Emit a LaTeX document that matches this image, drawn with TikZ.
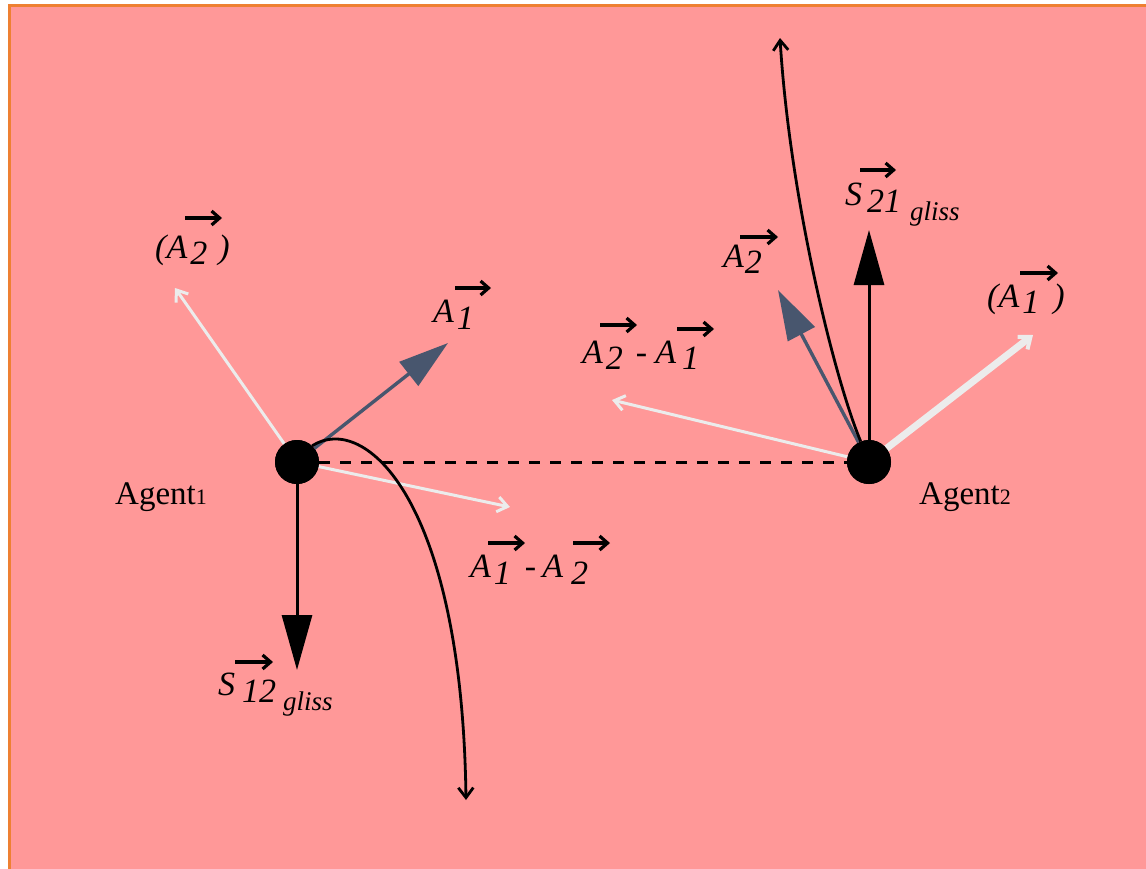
\documentclass[tikz,border=0pt]{standalone}
\usepackage{fontspec}
\setmainfont{Liberation Serif}
\usetikzlibrary{arrows.meta,calc}
\definecolor{bgpink}{RGB}{255,152,152}
\definecolor{frameorange}{RGB}{238,128,50}
\definecolor{slate}{RGB}{72,86,110}
\definecolor{ltgray}{RGB}{236,236,236}
\newcommand\dsub[2]{\raisebox{#1}{#2}}
\newcommand\glissfont{\fontsize{27}{29}\selectfont}
\begin{document}
\begin{tikzpicture}[x=1pt,y=-1pt,
  agent/.style={circle,fill=black,minimum size=44pt,inner sep=0pt},
  lbl/.style={anchor=base west,inner sep=0pt,font=\fontsize{34}{40}\selectfont\itshape},
  aglbl/.style={anchor=base west,inner sep=0pt,font=\fontsize{33}{38}\selectfont},
  vecbar/.style={line width=3.2pt,-{Straight Barb[length=8pt,width=14pt,line width=3.2pt]}},
  bigblack/.style={line width=3pt,-{Triangle[length=55pt,width=30pt]}},
  slatearr/.style={slate,line width=3.4pt,-{Triangle[length=50pt,width=30pt]}},
  whitearr/.style={ltgray,line width=3pt,-{Straight Barb[length=10pt,width=15pt,line width=3pt]}},
  thickwhite/.style={ltgray,line width=7pt,-{Straight Barb[length=10pt,width=16pt,line width=4pt]}},
  curvearr/.style={line width=2.8pt,-{Straight Barb[length=10pt,width=15pt,line width=2.8pt]}},
  dashline/.style={line width=3pt,dash pattern=on 11pt off 10pt}
]
\useasboundingbox (0,0) rectangle (1146,868);
\fill[white] (0,0) rectangle (1146,868);
\fill[bgpink] (9,5) rectangle (1160,880);
\draw[frameorange,line width=3pt] (9.5,880) -- (9.5,5.5) -- (1160,5.5);

% agents
\node[agent] (ag1) at (297,462) {};
\node[agent] (ag2) at (869,462) {};

% free ends
\coordinate (t1) at (175,288);
\coordinate (t2) at (448,343);
\coordinate (t3) at (510,507);
\coordinate (t4) at (297,670);
\coordinate (t5) at (466,800);
\coordinate (u1) at (612,400);
\coordinate (u2) at (778,290);
\coordinate (u3) at (869,230);
\coordinate (u4) at (1033,335);
\coordinate (u5) at (780,38);

% connectors agent 1
\draw[dashline] (ag1) -- (ag2);
\draw[whitearr] (ag1) -- (t1);
\draw[slatearr] (ag1) -- (t2);
\draw[whitearr] (ag1) -- (t3);
\draw[bigblack] (ag1) -- (t4);
\draw[curvearr] (ag1.47) .. controls (365,412) and (462,500) .. (t5);

% connectors agent 2
\draw[whitearr] (ag2) -- (u1);
\draw[slatearr] (ag2) -- (u2);
\draw[bigblack] (ag2) -- (u3);
\draw[thickwhite] (ag2) -- (u4);
\draw[curvearr] (ag2.112) .. controls (835,380) and (790,200) .. (u5);

\node[agent] at (ag1) {};
\node[agent] at (ag2) {};

% agent labels
\node[aglbl] (ag1l) at (115,504) {Agent\fontsize{22}{24}\selectfont 1};
\node[aglbl] (ag2l) at (919,504) {Agent\fontsize{22}{24}\selectfont 2};

% vector labels
\node[lbl] (lA2p) at (155,258) {(A\hspace{3pt}\dsub{-6pt}{2}\hspace{11pt})};
\draw[vecbar] ($(lA2p.base west)+(30,-40)$) -- ++(37,0);

\node[lbl] (lA1) at (433,322) {A\hspace{3pt}\dsub{-7pt}{1}};
\draw[vecbar] ($(lA1.base west)+(22,-34)$) -- ++(36,0);

\node[lbl] (lA2mA1) at (582,363) {A\hspace{3pt}\dsub{-6pt}{2}\hspace{13pt}-\hspace{8pt}A\hspace{6pt}\dsub{-6pt}{1}};
\draw[vecbar] ($(lA2mA1.base west)+(18,-38)$) -- ++(37,0);
\draw[vecbar] ($(lA2mA1.base west)+(95,-34)$) -- ++(37,0);

\node[lbl] (lA1mA2) at (470,577) {A\hspace{3pt}\dsub{-7pt}{1}\hspace{14pt}-\hspace{6pt}A\hspace{8pt}\dsub{-7pt}{2}};
\draw[vecbar] ($(lA1mA2.base west)+(18,-34)$) -- ++(37,0);
\draw[vecbar] ($(lA1mA2.base west)+(103,-34)$) -- ++(37,0);

\node[lbl] (lS12) at (218,695) {S\hspace{7pt}\dsub{-7pt}{12}\hspace{7pt}\dsub{-15pt}{\glissfont gliss}};
\draw[vecbar] ($(lS12.base west)+(17,-33)$) -- ++(38,0);

\node[lbl] (lS21) at (845,205) {S\hspace{5pt}\dsub{-7pt}{21}\hspace{9pt}\dsub{-15pt}{\glissfont gliss}};
\draw[vecbar] ($(lS21.base west)+(15,-35)$) -- ++(36,0);

\node[lbl] (lA2b) at (723,267) {A\hspace{1pt}\dsub{-6pt}{2}};
\draw[vecbar] ($(lA2b.base west)+(17,-30)$) -- ++(38,0);

\node[lbl] (lA1p) at (987,307) {(A\hspace{3pt}\dsub{-6pt}{1}\hspace{14pt})};
\draw[vecbar] ($(lA1p.base west)+(33,-34)$) -- ++(38,0);
\end{tikzpicture}
\end{document}
